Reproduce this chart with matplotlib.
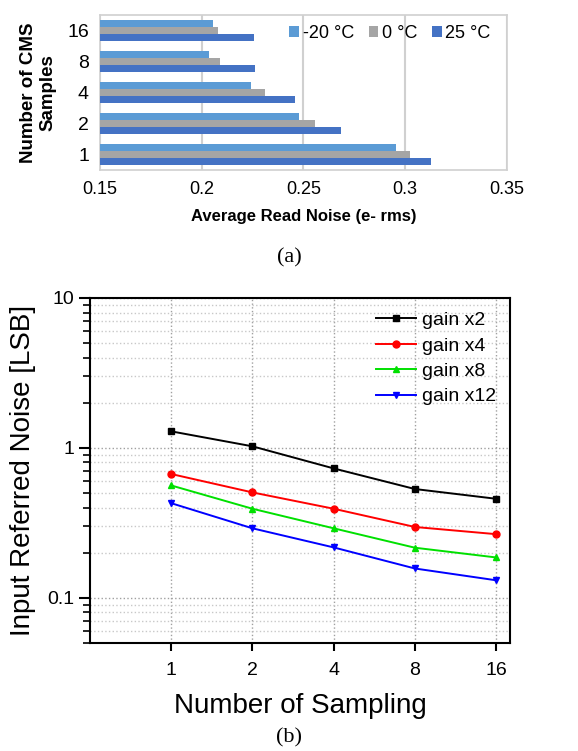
import numpy as np
import matplotlib
matplotlib.use("Agg")
from matplotlib import pyplot as plt
from matplotlib.ticker import LogLocator, NullFormatter, FixedLocator

plt.rcParams['font.family'] = ['Liberation Sans', 'DejaVu Sans']

# ---- (a) read noise vs CMS samples ----
cms_samples = ['1', '2', '4', '8', '16']
temp_labels = ['-20 °C', '0 °C', '25 °C']
noise_m20 = [0.2957, 0.2479, 0.2243, 0.2038, 0.2053]
noise_0 = [0.3025, 0.2556, 0.2309, 0.2088, 0.2078]
noise_25 = [0.3125, 0.2685, 0.2457, 0.2262, 0.2259]
bar_colors = ['#5b9bd5', '#a5a5a5', '#4472c4']

# ---- (b) input referred noise vs sampling ----
sampling = ['1', '2', '4', '8', '16']
gain_labels = ['gain x2', 'gain x4', 'gain x8', 'gain x12']
gain_x2 = [1.29, 1.025, 0.730, 0.532, 0.458]
gain_x4 = [0.670, 0.505, 0.393, 0.297, 0.266]
gain_x8 = [0.562, 0.393, 0.291, 0.216, 0.186]
gain_x12 = [0.428, 0.291, 0.217, 0.157, 0.131]

fig = plt.figure(figsize=(5.78, 7.51), dpi=100)

ax1 = fig.add_axes([0.173, 0.7736, 0.704, 0.2064])
y = np.arange(len(cms_samples))
h = 0.22
series = [noise_m20, noise_0, noise_25]
for i, (vals, c, lab) in enumerate(zip(series, bar_colors, temp_labels)):
    ax1.barh(y + h * (1 - i), np.array(vals) - 0.15, left=0.15, height=h,
             color=c, label=lab, zorder=3)
ax1.set_xlim(0.15, 0.35)
ax1.set_ylim(-0.5, 4.5)
ax1.set_xticks([0.15, 0.2, 0.25, 0.3, 0.35])
ax1.set_xticklabels(['0.15', '0.2', '0.25', '0.3', '0.35'], fontsize=13)
ax1.set_yticks(y)
ax1.set_yticklabels(cms_samples, fontsize=14)
ax1.tick_params(length=0, pad=8)
ax1.grid(axis='x', color='#d0d0d0', lw=1.5, zorder=0)
for s in ax1.spines.values():
    s.set_color('#d0d0d0')
    s.set_linewidth(1.2)
ax1.set_xlabel('Average Read Noise (e- rms)', fontsize=12, fontweight='bold', labelpad=8)
ax1.set_ylabel('Number of CMS\nSamples', fontsize=13.5, fontweight='bold', labelpad=8, linespacing=1.15)
ax1.legend(loc='upper right', bbox_to_anchor=(1.0, 1.04), ncol=3, frameon=False, fontsize=13,
           handlelength=0.55, handleheight=0.55, handletextpad=0.2, columnspacing=0.8)
fig.text(0.5, 0.657, '(a)', ha='center', va='center', fontsize=16, family=['Liberation Serif', 'DejaVu Serif'])

# ---- (b) ----
ax2 = fig.add_axes([0.1557, 0.1438, 0.7266, 0.4594])
x = np.arange(len(sampling))
lines = [gain_x2, gain_x4, gain_x8, gain_x12]
colors = ['black', '#ff0000', '#00e000', '#0000ff']
markers = ['s', 'o', '^', 'v']
for vals, c, m, lab in zip(lines, colors, markers, gain_labels):
    ax2.plot(x, vals, color=c, marker=m, markersize=5, lw=1.4, label=lab, zorder=3)
ax2.set_yscale('log')
ax2.set_ylim(0.05, 10)
ax2.set_xlim(-1, 4.17)
ax2.set_xticks(x)
ax2.set_xticklabels(sampling, fontsize=14)
ax2.yaxis.set_major_locator(FixedLocator([0.1, 1, 10]))
ax2.set_yticklabels(['0.1', '1', '10'], fontsize=14)
ax2.yaxis.set_minor_locator(LogLocator(base=10, subs=np.arange(2, 10) * 1.0))
ax2.yaxis.set_minor_formatter(NullFormatter())
ax2.tick_params(axis='y', which='major', length=8, width=1.5, direction='out')
ax2.tick_params(axis='y', which='minor', length=5, width=1.2, direction='out')
ax2.tick_params(axis='x', length=6, width=1.5, direction='out', pad=8)
ax2.grid(which='major', color='#a0a0a0', ls=':', lw=1.0)
ax2.grid(which='minor', axis='y', color='#c8c8c8', ls=':', lw=1.0)
for s in ax2.spines.values():
    s.set_linewidth(1.5)
ax2.set_xlabel('Number of Sampling', fontsize=20, labelpad=10)
ax2.set_ylabel('Input Referred Noise [LSB]', fontsize=20, labelpad=8)
ax2.legend(loc='upper right', frameon=False, fontsize=14, handlelength=2.1,
           handletextpad=0.3, labelspacing=0.4, borderaxespad=0.3)
fig.text(0.5, 0.017, '(b)', ha='center', va='center', fontsize=16, family=['Liberation Serif', 'DejaVu Serif'])

fig.savefig('out.png', dpi=100)
